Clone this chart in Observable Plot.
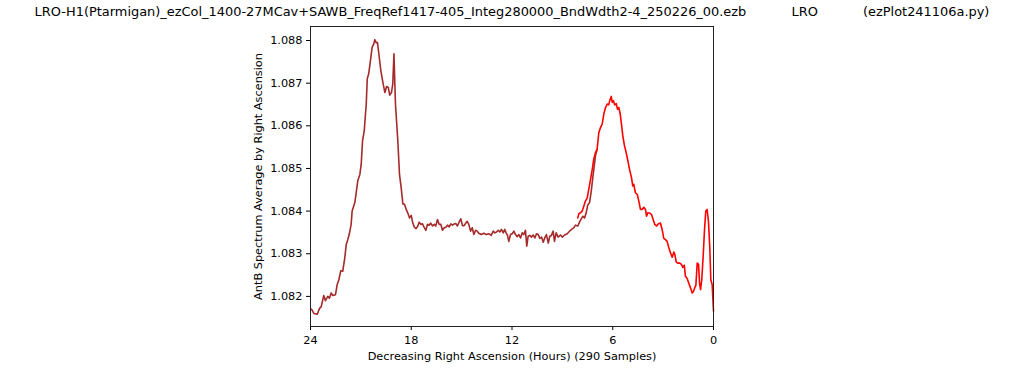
<!DOCTYPE html>
<html>
<head>
<meta charset="utf-8">
<script src="https://cdn.jsdelivr.net/npm/d3@7"></script>
<script src="https://cdn.jsdelivr.net/npm/@observablehq/plot@0.6"></script>
<style>
  html, body { margin: 0; padding: 0; background: #fff; }
  #wrap { position: relative; width: 1024px; height: 370px; font-family: "DejaVu Sans", sans-serif; }
  #title { position: absolute; top: 4px; left: 0; width: 1024px; text-align: center; font-size: 12.93px; white-space: pre; color: #000; }
  svg { display: block; }
</style>
</head>
<body>
<div id="wrap"><div id="title"></div></div>
<script>
const titleText = "LRO-H1(Ptarmigan)_ezCol_1400-27MCav+SAWB_FreqRef1417-405_Integ280000_BndWdth2-4_250226_00.ezb           LRO           (ezPlot241106a.py)";
const xLabel = "Decreasing Right Ascension (Hours) (290 Samples)";
const yLabel = "AntB Spectrum Average by Right Ascension";
const xTicks = [24, 18, 12, 6, 0];
const yTicks = [1.082, 1.083, 1.084, 1.085, 1.086, 1.087, 1.088];

const brownHours = [23.94,23.80,23.60,23.46,23.36,23.21,23.11,22.97,22.87,22.77,22.67,22.51,22.41,22.31,22.20,22.08,21.96,21.87,21.78,21.68,21.58,21.52,21.36,21.28,21.18,21.06,20.98,20.90,20.80,20.74,20.68,20.62,20.53,20.43,20.33,20.23,20.17,20.09,20.01,19.93,19.81,19.69,19.57,19.47,19.37,19.28,19.18,19.10,19.03,18.94,18.80,18.70,18.60,18.50,18.40,18.30,18.21,18.10,18.00,17.91,17.81,17.71,17.61,17.53,17.43,17.33,17.23,17.13,17.03,16.93,16.84,16.73,16.63,16.54,16.44,16.34,16.24,16.14,16.04,15.94,15.84,15.74,15.64,15.54,15.44,15.35,15.25,15.14,15.05,14.95,14.85,14.75,14.67,14.57,14.47,14.37,14.27,14.17,14.07,13.98,13.83,13.68,13.54,13.38,13.24,13.12,13.02,12.92,12.82,12.73,12.63,12.52,12.43,12.35,12.27,12.19,12.09,11.99,11.89,11.79,11.69,11.59,11.49,11.39,11.30,11.20,11.12,11.04,10.94,10.84,10.74,10.64,10.54,10.44,10.34,10.24,10.14,10.05,9.95,9.84,9.75,9.65,9.55,9.47,9.37,9.25,9.11,9.01,8.87,8.71,8.52,8.32,8.22,8.08,7.96,7.86,7.78,7.68,7.58,7.49,7.38,7.28,7.19,7.09,7.03,6.93];
const brownVals = [1.08170,1.08160,1.08158,1.08172,1.08176,1.08202,1.08190,1.08200,1.08196,1.08208,1.08202,1.08204,1.08228,1.08239,1.08260,1.08259,1.08290,1.08322,1.08333,1.08348,1.08369,1.08400,1.08420,1.08443,1.08472,1.08486,1.08510,1.08565,1.08588,1.08620,1.08651,1.08710,1.08723,1.08753,1.08784,1.08792,1.08802,1.08795,1.08795,1.08769,1.08729,1.08702,1.08678,1.08692,1.08690,1.08672,1.08678,1.08698,1.08769,1.08651,1.08565,1.08486,1.08455,1.08417,1.08416,1.08404,1.08396,1.08384,1.08390,1.08372,1.08362,1.08359,1.08365,1.08374,1.08369,1.08370,1.08362,1.08355,1.08369,1.08367,1.08372,1.08365,1.08369,1.08365,1.08380,1.08369,1.08369,1.08355,1.08361,1.08362,1.08367,1.08363,1.08370,1.08367,1.08370,1.08371,1.08365,1.08375,1.08382,1.08366,1.08366,1.08372,1.08376,1.08369,1.08353,1.08361,1.08345,1.08355,1.08353,1.08348,1.08345,1.08348,1.08345,1.08347,1.08343,1.08353,1.08349,1.08351,1.08355,1.08351,1.08357,1.08349,1.08357,1.08349,1.08343,1.08329,1.08345,1.08347,1.08353,1.08345,1.08340,1.08345,1.08337,1.08349,1.08345,1.08355,1.08318,1.08341,1.08343,1.08339,1.08344,1.08337,1.08347,1.08345,1.08336,1.08339,1.08327,1.08337,1.08345,1.08325,1.08341,1.08343,1.08353,1.08329,1.08349,1.08339,1.08344,1.08339,1.08344,1.08347,1.08355,1.08361,1.08367,1.08365,1.08376,1.08383,1.08388,1.08384,1.08396,1.08414,1.08420,1.08447,1.08478,1.08510,1.08530,1.08545];

const redHours = [8.08,8.02,7.92,7.82,7.72,7.62,7.52,7.43,7.32,7.22,7.13,7.03,6.93,6.83,6.73,6.63,6.53,6.43,6.33,6.24,6.18,6.09,6.03,5.96,5.88,5.79,5.72,5.64,5.56,5.48,5.40,5.30,5.20,5.10,5.00,4.88,4.81,4.75,4.65,4.54,4.45,4.35,4.25,4.15,4.05,3.99,3.91,3.79,3.69,3.59,3.50,3.39,3.29,3.16,3.06,2.96,2.86,2.76,2.66,2.56,2.46,2.36,2.30,2.22,2.13,2.01,1.91,1.83,1.74,1.67,1.57,1.47,1.37,1.27,1.19,1.11,1.05,0.97,0.89,0.83,0.77,0.70,0.61,0.54,0.46,0.38,0.30,0.22,0.16,0.08,0.00];
const redVals = [1.08384,1.08394,1.08396,1.08400,1.08412,1.08424,1.08431,1.08451,1.08475,1.08498,1.08522,1.08537,1.08545,1.08584,1.08596,1.08604,1.08628,1.08643,1.08651,1.08649,1.08659,1.08669,1.08655,1.08659,1.08649,1.08652,1.08639,1.08643,1.08629,1.08604,1.08576,1.08553,1.08537,1.08518,1.08498,1.08478,1.08459,1.08463,1.08443,1.08439,1.08424,1.08404,1.08404,1.08409,1.08404,1.08388,1.08396,1.08395,1.08392,1.08380,1.08369,1.08365,1.08370,1.08372,1.08357,1.08336,1.08333,1.08329,1.08314,1.08302,1.08292,1.08304,1.08298,1.08281,1.08278,1.08278,1.08275,1.08268,1.08273,1.08247,1.08242,1.08231,1.08220,1.08208,1.08212,1.08221,1.08226,1.08278,1.08275,1.08231,1.08216,1.08239,1.08298,1.08353,1.08400,1.08404,1.08376,1.08314,1.08239,1.08228,1.08165];

const brown = brownHours.map((h, i) => ({h, v: brownVals[i]}));
const red = redHours.map((h, i) => ({h, v: redVals[i]}));

document.getElementById("title").textContent = titleText;

const font = "DejaVu Sans, sans-serif";
const chart = Plot.plot({
  width: 1024,
  height: 370,
  marginLeft: 310,
  marginRight: 311,
  marginTop: 26,
  marginBottom: 44,
  style: {fontFamily: font, fontSize: "11.3px", color: "#000", background: "transparent"},
  x: {domain: [24, 0]},
  y: {domain: [1.081294, 1.088329]},
  marks: [
    Plot.axisX({ticks: xTicks, tickFormat: d => String(d), tickSize: 4, tickPadding: 5, label: xLabel, labelAnchor: "center", labelArrow: "none", labelOffset: 33}),
    Plot.axisY({ticks: yTicks, tickFormat: d3.format(".3f"), tickSize: 4, tickPadding: 4, label: yLabel, labelAnchor: "center", labelArrow: "none", labelOffset: 57}),
    Plot.line(brown, {x: "h", y: "v", stroke: "brown", strokeWidth: 1.6}),
    Plot.line(red, {x: "h", y: "v", stroke: "red", strokeWidth: 1.6}),
    Plot.frame({stroke: "#222", strokeWidth: 1})
  ]
});
document.getElementById("wrap").appendChild(chart);
</script>
</body>
</html>
